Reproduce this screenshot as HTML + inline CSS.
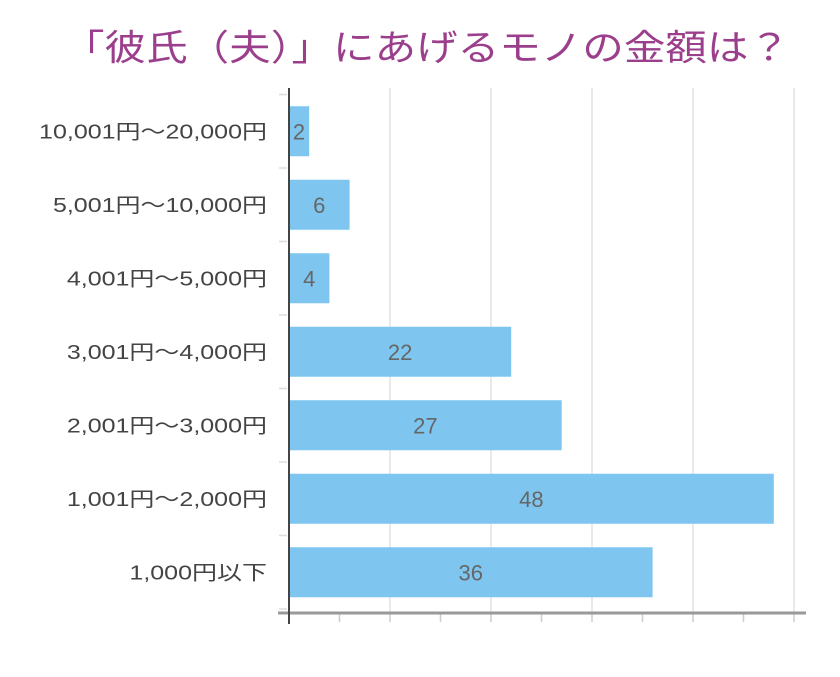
<!DOCTYPE html>
<html><head><meta charset="utf-8"><style>
body{margin:0;background:#fff;width:840px;height:672px;overflow:hidden}
svg text{font-family:"Liberation Sans","Noto Sans CJK JP",sans-serif}
</style></head><body>
<svg width="840" height="672">
<text x="63" y="60" textLength="727" lengthAdjust="spacingAndGlyphs" font-size="36" fill="#9b3f8c">「彼氏（夫）」にあげるモノの金額は？</text>
<g id="grid"></g><g id="bars"></g><g id="axes"></g>
</svg>
<script>
const categories=["10,001円〜20,000円","5,001円〜10,000円","4,001円〜5,000円","3,001円〜4,000円","2,001円〜3,000円","1,001円〜2,000円","1,000円以下"];
const values=[2,6,4,22,27,48,36];
const gridTicks=[10,20,30,40,50];
const minorTicks=[5,10,15,20,25,30,35,40,45,50];
const NS="http://www.w3.org/2000/svg";
const x0=289,unit=10.1,yTop=94.5,band=73.5,bh=50,axisY=613;
const xs=v=>x0+v*unit;
function mk(t,a,p){const e=document.createElementNS(NS,t);for(const k in a)e.setAttribute(k,a[k]);p.appendChild(e);return e;}
const g=document.getElementById('grid'),b=document.getElementById('bars'),ax=document.getElementById('axes');
gridTicks.forEach(v=>{const l=mk('line',{x1:xs(v),x2:xs(v),y1:88,y2:axisY,stroke:'#e2e2e2','stroke-width':1.5},g);

});
categories.forEach((c,i)=>{const cy=yTop+band*(i+0.5);
const r=mk('rect',{x:x0,y:cy-bh/2,width:xs(values[i])-x0,height:bh,fill:'#7ec6ef'},b);


const w=xs(values[i])-x0;const tx=w<25?x0+10:x0+w/2;
const t=mk('text',{x:tx,y:cy+8,'text-anchor':'middle','font-size':22,fill:'#666'},b);t.textContent=values[i];


const lb=mk('text',{x:267,y:cy+7,'text-anchor':'end','font-size':20,fill:'#444'},ax);lb.textContent=c;


const len=lb.getComputedTextLength();lb.setAttribute('textLength',len*1.25);lb.setAttribute('lengthAdjust','spacingAndGlyphs');});
for(let i=0;i<=categories.length;i++){const y=yTop+band*i;const t=mk('line',{x1:279,x2:287,y1:y,y2:y,stroke:'#ddd','stroke-width':1.5},ax);

}
minorTicks.forEach(v=>{const t=mk('line',{x1:xs(v),x2:xs(v),y1:axisY,y2:622,stroke:'#ccc','stroke-width':1.5},ax);

});
const xa=mk('line',{x1:278,x2:806,y1:axisY,y2:axisY,stroke:'#999','stroke-width':3},ax);


const ya=mk('line',{x1:289,x2:289,y1:88,y2:624,stroke:'#444','stroke-width':2},ax);


</script>
</body></html>
